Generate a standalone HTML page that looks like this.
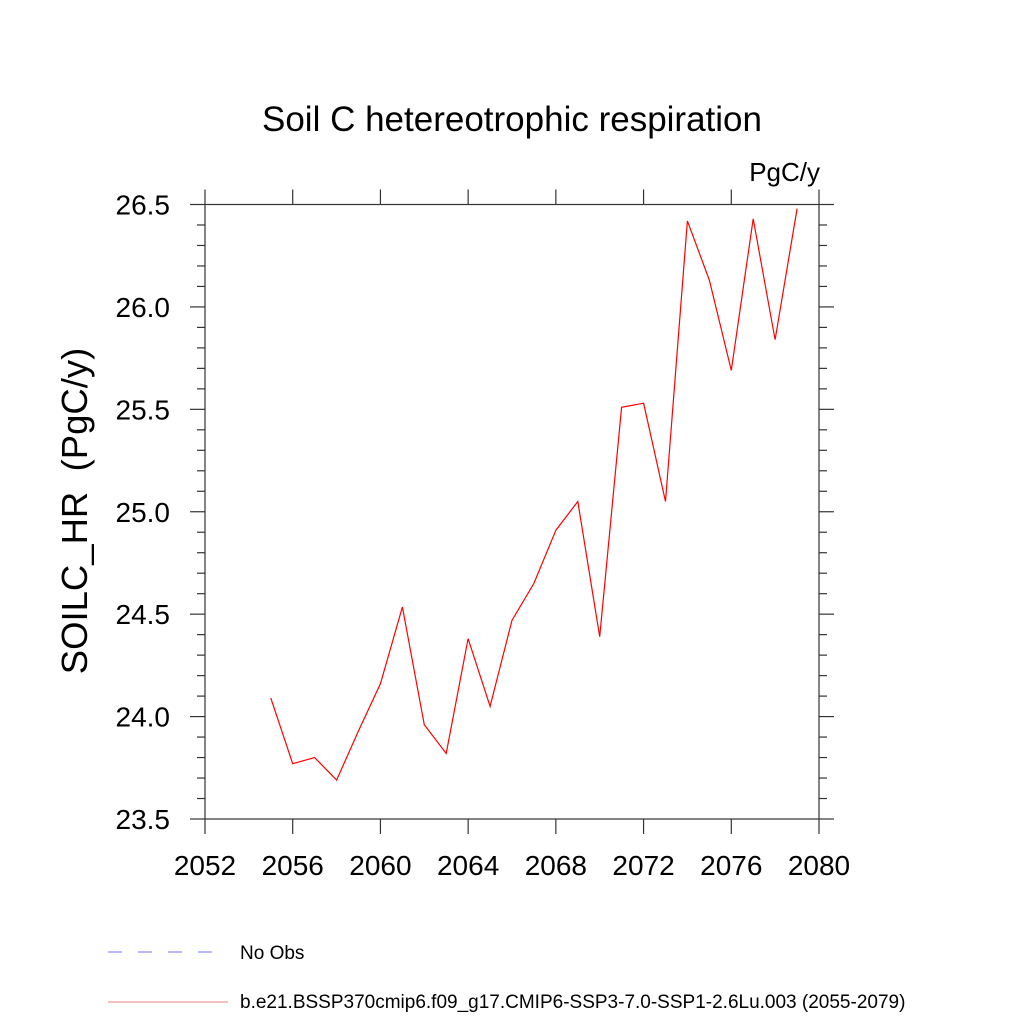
<!DOCTYPE html>
<html><head><meta charset="utf-8"><style>
html,body{margin:0;padding:0;background:#fff;}
svg{display:block;font-family:"Liberation Sans",sans-serif;}
</style></head><body>
<svg id="chart" width="1024" height="1024" xmlns="http://www.w3.org/2000/svg">
<rect width="1024" height="1024" fill="#fff"/>
<text x="512" y="131" font-size="35" text-anchor="middle">Soil C hetereotrophic respiration</text>
<text x="820" y="181" font-size="26" text-anchor="end">PgC/y</text>
<text transform="translate(87,511) rotate(-90)" font-size="36.5" text-anchor="middle">SOILC_HR&#160; (PgC/y)</text>
<g id="axes"></g>
<path id="series" fill="none" stroke="#ff0000" stroke-width="1.2"/>
<g>
<line x1="108" y1="952" x2="215" y2="952" stroke="#7070ff" stroke-width="1" stroke-dasharray="14,16"/>
<text x="240" y="959" font-size="19">No Obs</text>
<line x1="108" y1="1002" x2="228" y2="1002" stroke="#f08080" stroke-width="1"/>
<text x="240" y="1008" font-size="19">b.e21.BSSP370cmip6.f09_g17.CMIP6-SSP3-7.0-SSP1-2.6Lu.003 (2055-2079)</text>
</g>
</svg>
<script>
const years = [2055,2056,2057,2058,2059,2060,2061,2062,2063,2064,2065,2066,2067,2068,2069,2070,2071,2072,2073,2074,2075,2076,2077,2078,2079];
const values = [24.09,23.77,23.80,23.69,23.93,24.16,24.535,23.96,23.82,24.38,24.05,24.47,24.65,24.91,25.05,24.39,25.51,25.53,25.05,26.42,26.13,25.69,26.43,25.84,26.48];
const xTicks = [2052,2056,2060,2064,2068,2072,2076,2080];
const yTicks = ["23.5","24.0","24.5","25.0","25.5","26.0","26.5"];
const X0=205,X1=819,Y0=204.5,Y1=819;
const xMin=2052,xMax=2080,yMin=23.5,yMax=26.5;
function sx(v){return X0+(v-xMin)/(xMax-xMin)*(X1-X0);}
function sy(v){return Y1-(v-yMin)/(yMax-yMin)*(Y1-Y0);}
const NS="http://www.w3.org/2000/svg";
const g=document.getElementById('axes');
function ln(x1,y1,x2,y2,name){const l=document.createElementNS(NS,'line');
l.setAttribute('x1',x1);l.setAttribute('y1',y1);l.setAttribute('x2',x2);l.setAttribute('y2',y2);
l.setAttribute('stroke','#333');l.setAttribute('stroke-width','1.2');


g.appendChild(l);}
function tx(x,y,s,anchor,name){const t=document.createElementNS(NS,'text');
t.setAttribute('x',x);t.setAttribute('y',y);t.setAttribute('font-size','28');t.setAttribute('text-anchor',anchor);t.textContent=s;


g.appendChild(t);}
const box=document.createElementNS(NS,'rect');
box.setAttribute('x',X0);box.setAttribute('y',Y0);box.setAttribute('width',X1-X0);box.setAttribute('height',Y1-Y0);
box.setAttribute('fill','none');box.setAttribute('stroke','#333');box.setAttribute('stroke-width','1.2');


g.appendChild(box);
xTicks.forEach(v=>{const x=sx(v);ln(x,Y1,x,Y1+15,'x-tick');ln(x,Y0,x,Y0-15,'x-tick-top');tx(x,Y1+56,String(v),'middle','x-tick-label');});
for(let v=yMin;v<=yMax+1e-6;v+=0.1){const y=sy(v);const major=Math.abs(v*2-Math.round(v*2))<1e-6;const L=major?15:8;
ln(X0-L,y,X0,y,'y-tick');ln(X1,y,X1+L,y,'y-tick-right');}
yTicks.forEach(s=>{tx(X0-35,sy(parseFloat(s))+10,s,'end','y-tick-label');});
document.getElementById('series').setAttribute('d',years.map((y,i)=>(i?'L':'M')+sx(y).toFixed(1)+','+sy(values[i]).toFixed(1)).join(''));
</script>
</body></html>
